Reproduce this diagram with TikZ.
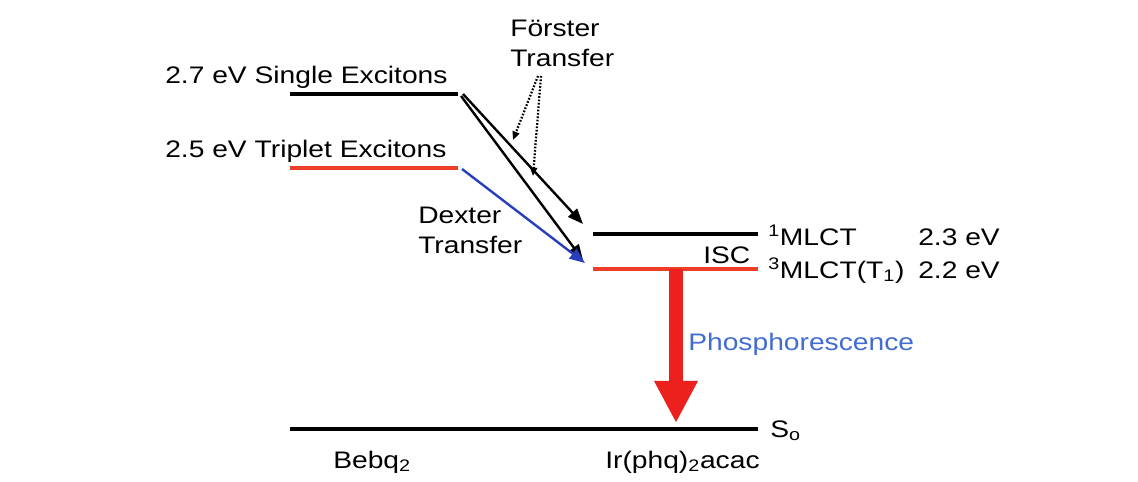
\documentclass[tikz,border=0pt]{standalone}
\usepackage{fontspec}
\setmainfont{Liberation Sans}[FakeStretch=1.18]
\usetikzlibrary{arrows.meta,positioning}
\definecolor{levelred}{RGB}{238,62,40}
\definecolor{phosred}{RGB}{236,32,28}
\definecolor{dexblue}{RGB}{40,62,190}
\definecolor{phosblue}{RGB}{66,108,210}
\tikzset{
  every picture/.style={font=\fontsize{17}{21.3}\selectfont},
  lvl/.style={line width=2.9pt},
  hotlvl/.style={lvl,levelred},
  hop/.style={line width=1.7pt,-{Triangle[length=11pt,width=8.5pt]}},
  hint/.style={dash pattern=on 1.2pt off 1.2pt,line width=1.6pt,-{Triangle[length=6pt,width=5pt]}},
  lbl/.style={anchor=base west,inner sep=0pt},
}
\begin{document}
\begin{tikzpicture}[x=0.025cm,y=-0.025cm]
  \useasboundingbox (0,0) rectangle (1138,481);
  % Bebq2 levels
  \coordinate (sgL) at (290,94);
  \coordinate (sgR) at (458,94);
  \coordinate (trL) at (290,168);
  \coordinate (trR) at (458,168);
  \draw[lvl] (sgL) -- (sgR);
  \draw[hotlvl] (trL) -- (trR);
  \node[lbl] (sglbl) at (165,83) {2.7 eV Single Excitons};
  \node[lbl] (trlbl) at (165,157) {2.5 eV Triplet Excitons};
  % Ir(phq)2acac levels
  \coordinate (mlA) at (593,234);
  \coordinate (mlB) at (758,234);
  \coordinate (tA) at (593,269);
  \coordinate (tB) at (758,269);
  \draw[lvl] (mlA) -- (mlB);
  \draw[hotlvl] (tA) -- (tB);
  \node[lbl] (mlct) at (768,245) {\textsuperscript{1}MLCT};
  \node[lbl] (tone) at (768,278) {\textsuperscript{3}MLCT(T\textsubscript{1})};
  \node[lbl] (ev23) at (918,245) {2.3 eV};
  \node[lbl] (ev22) at (918,278) {2.2 eV};
  \node[lbl] (isc) at (703,263) {ISC};
  % ground state
  \coordinate (gL) at (290,429);
  \coordinate (gR) at (758,429);
  \draw[lvl] (gL) -- (gR);
  \node[lbl] (gnd) at (770,437) {S\textsubscript{o}};
  \node[lbl] (bebq) at (333,468) {Bebq\textsubscript{2}};
  \node[lbl] (irp) at (605,468) {Ir(phq)\textsubscript{2}acac};
  % transfers
  \coordinate (sgOut) at (463,94);
  \coordinate (sgOut2) at (461,96);
  \coordinate (trOut) at (462,169);
  \coordinate (mlIn) at (583,224);
  \coordinate (tIn) at (583,260);
  \coordinate (dxIn) at (585,263);
  \draw[hop] (sgOut) -- (mlIn);
  \draw[hop] (sgOut2) -- (tIn);
  \draw[hop,dexblue] (trOut) -- (dxIn);
  \node[anchor=base west,align=left,inner sep=0pt] (foerster) at (510,66) {Förster\\Transfer};
  \node[anchor=base west,align=left,inner sep=0pt] (dexter) at (418,253) {Dexter\\Transfer};
  \coordinate (hintA) at (538,76);
  \coordinate (hintB) at (541,76);
  \coordinate (hintAend) at (513,140);
  \coordinate (hintBend) at (533,176);
  \draw[hint] (hintA) -- (hintAend);
  \draw[hint] (hintB) -- (hintBend);
  % phosphorescence
  \coordinate (phTop) at (676,269);
  \coordinate (phTip) at (676,423);
  \draw[phosred,line width=10.5pt,-{Triangle[length=30pt,width=29pt]}] (phTop) -- (phTip);
  \node[lbl,phosblue] (phos) at (688,350) {Phosphorescence};
\end{tikzpicture}
\end{document}
